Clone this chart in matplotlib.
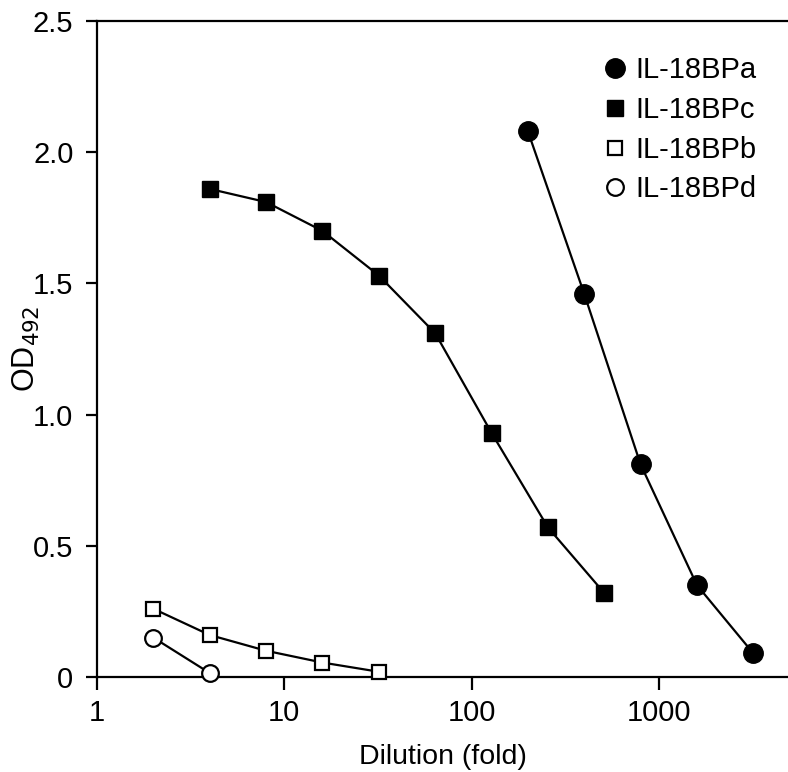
import matplotlib
matplotlib.use("Agg")
import matplotlib.pyplot as plt

plt.rcParams['font.family'] = ['Liberation Sans', 'DejaVu Sans']

# dilution (fold) and OD492 for each construct
dil_a = [200, 400, 800, 1600, 3200]
od_a = [2.08, 1.46, 0.81, 0.35, 0.09]

dil_c = [4, 8, 16, 32, 64, 128, 256, 512]
od_c = [1.86, 1.81, 1.70, 1.53, 1.31, 0.93, 0.57, 0.32]

dil_b = [2, 4, 8, 16, 32]
od_b = [0.26, 0.16, 0.10, 0.055, 0.02]

dil_d = [2, 4]
od_d = [0.15, 0.015]

fig = plt.figure(figsize=(7.88, 7.72), dpi=100)
ax = fig.add_axes([97 / 788, 1 - 677 / 772, 1 - 97 / 788, (677 - 21) / 772])

lw = 1.6
ax.plot(dil_a, od_a, '-o', color='black', lw=lw, ms=14, mfc='black', mec='black',
        label='IL-18BPa', clip_on=False, zorder=3)
ax.plot(dil_c, od_c, '-s', color='black', lw=lw, ms=11.5, mfc='black', mec='black',
        label='IL-18BPc', clip_on=False, zorder=3)
ax.plot(dil_b, od_b, '-s', color='black', lw=lw, ms=10.5, mfc='white', mec='black',
        mew=1.6, label='IL-18BPb', clip_on=False, zorder=3)
ax.plot(dil_d, od_d, '-o', color='black', lw=lw, ms=12, mfc='white', mec='black',
        mew=1.6, label='IL-18BPd', clip_on=False, zorder=3)

ax.set_xscale('log')
ax.set_xlim(1, 4900)
ax.set_ylim(0, 2.5)
ax.set_xticks([1, 10, 100, 1000])
ax.set_xticklabels(['1', '10', '100', '1000'])
ax.xaxis.set_minor_locator(matplotlib.ticker.NullLocator())
ax.set_yticks([0, 0.5, 1.0, 1.5, 2.0, 2.5])
ax.set_yticklabels(['0', '0.5', '1.0', '1.5', '2.0', '2.5'])

for s in ['left', 'bottom', 'top']:
    ax.spines[s].set_linewidth(1.6)
ax.spines['right'].set_visible(False)
ax.tick_params(axis='both', labelsize=21, width=1.6, direction='out')
ax.tick_params(axis='y', length=8, pad=9)
ax.tick_params(axis='x', length=9, pad=7)

ax.set_xlabel('Dilution (fold)', fontsize=20.5, labelpad=12)
ax.set_ylabel('OD$_{492}$', fontsize=22)
ax.yaxis.set_label_coords(-0.08, 0.5)

leg = ax.legend(loc='upper left', bbox_to_anchor=(0.735, 0.946), frameon=False,
                fontsize=21, handlelength=0.7, handletextpad=0.35, labelspacing=0.4,
                borderpad=0, borderaxespad=0)
for h in leg.legend_handles:
    h.set_linestyle('None')

fig.savefig('out.png', dpi=100)
